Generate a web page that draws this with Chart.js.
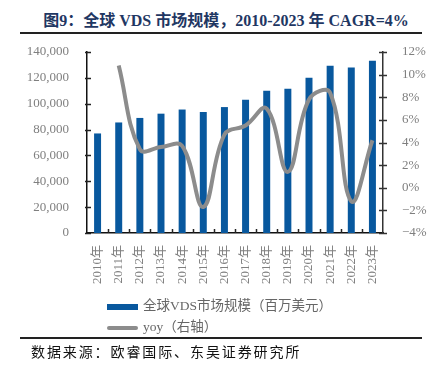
<!DOCTYPE html>
<html>
<head>
<meta charset="utf-8">
<script src="https://cdn.jsdelivr.net/npm/chart.js@4/dist/chart.umd.min.js"></script>
<style>
  body { margin: 0; background: #fff; }
  #wrap { position: relative; width: 440px; height: 365px; overflow: hidden; }
  #chart { position: absolute; left: 0; top: 0; }
  .title { position: absolute; left: 0; width: 452px; top: 7px; text-align: center;
    font: bold 16px "Liberation Serif", "Noto Sans CJK SC", serif; color: #1f3763; }
  .rule { position: absolute; left: 20px; width: 402px; height: 2px; background: #222; }
  .legend { position: absolute; left: 107px; font: 13.5px "Liberation Serif", "Noto Sans CJK SC", serif; color: #666; }
  .legend span.sw { display: inline-block; width: 31px; vertical-align: middle; margin-right: 5px; }
  .source { position: absolute; left: 31px; top: 341px; font: 14px "Noto Sans CJK SC", serif; color: #111; letter-spacing: 1.9px; }
</style>
</head>
<body>
<div id="wrap">
  <div class="title">图9：全球 VDS 市场规模，2010-2023 年 CAGR=4%</div>
  <div class="rule" style="top:32px"></div>
  <canvas id="chart" width="440" height="365"></canvas>
  <div class="legend" style="top:294px"><span class="sw" style="height:6px;background:#08589e"></span>全球VDS市场规模（百万美元）</div>
  <div class="legend" style="top:315px"><span class="sw" style="height:4px;background:#8c8c8c;border-radius:2px"></span>yoy（右轴）</div>
  <div class="rule" style="top:337px"></div>
  <div class="source">数据来源：欧睿国际、东吴证券研究所</div>
</div>

<script>
// DATA
const years = ["2010年", "2011年", "2012年", "2013年", "2014年", "2015年", "2016年",
  "2017年", "2018年", "2019年", "2020年", "2021年", "2022年", "2023年"];
const marketSize = [77000, 85500, 89000, 92300, 95500, 93600, 97400,
  103000, 110000, 111500, 120000, 129300, 128100, 133200];
const yoy = [null, 10.8, 3.4, 3.6, 3.7, -1.7, 4.7, 5.5, 7.0, 1.4, 7.8, 8.4, -1.2, 4.2];
const leftTicks = [0, 140000, 20000];   // min, max, step
const rightTicks = [-4, 12, 2];

// small tick marks that cross the axis lines
const axisTicks = {
  id: "axisTicks",
  afterDraw(chart) {
    const ctx = chart.ctx;
    const y = chart.scales.y, y1 = chart.scales.y1, x = chart.scales.x;
    ctx.save();
    ctx.lineWidth = 1.5;
    ctx.strokeStyle = "#222";
    y.ticks.forEach((t, i) => {
      const p = Math.round(y.getPixelForTick(i)) + 0.5;
      ctx.beginPath(); ctx.moveTo(y.right - 2, p); ctx.lineTo(y.right + 4, p); ctx.stroke();
    });
    ctx.strokeStyle = "#333";
    y1.ticks.forEach((t, i) => {
      const p = Math.round(y1.getPixelForTick(i)) + 0.5;
      ctx.beginPath(); ctx.moveTo(y1.left - 4, p); ctx.lineTo(y1.left + 4, p); ctx.stroke();
    });
    ctx.strokeStyle = "#222";
    const n = x.ticks.length;
    for (let i = 1; i < n; i++) {
      const p = Math.round((x.getPixelForTick(i - 1) + x.getPixelForTick(i)) / 2) + 0.5;
      ctx.beginPath(); ctx.moveTo(p, x.top); ctx.lineTo(p, x.top - 4); ctx.stroke();
    }
    ctx.restore();
  }
};

const tickFont = { family: "'Liberation Serif', 'Noto Sans CJK SC', serif", size: 13 };

new Chart(document.getElementById("chart"), {
  data: {
    labels: years,
    datasets: [
      {
        type: "line",
        label: "yoy（右轴）",
        data: yoy,
        yAxisID: "y1",
        borderColor: "#8c8c8c",
        borderWidth: 4,
        pointRadius: 0,
        tension: 0.4,
        order: 0
      },
      {
        type: "bar",
        label: "全球VDS市场规模（百万美元）",
        data: marketSize,
        yAxisID: "y",
        backgroundColor: "#08589e",
        barPercentage: 0.33,
        categoryPercentage: 1,
        order: 1
      }
    ]
  },
  options: {
    responsive: false,
    animation: false,
    layout: { padding: { top: 52, left: 0, right: 0, bottom: 0 } },
    plugins: { legend: { display: false }, tooltip: { enabled: false } },
    scales: {
      x: {
        offset: true,
        grid: { display: false },
        border: { display: true, color: "#111", width: 1.5 },
        ticks: { font: tickFont, color: "#7f7f7f", minRotation: 90, maxRotation: 90, padding: 4 },
        afterFit: s => { s.height = 132; }
      },
      y: {
        position: "left",
        min: leftTicks[0], max: leftTicks[1],
        grid: { display: false },
        border: { display: true, color: "#111", width: 1.5 },
        ticks: { stepSize: leftTicks[2], font: tickFont, color: "#7f7f7f", padding: 10 },
        afterFit: s => { s.width = 87; }
      },
      y1: {
        position: "right",
        min: rightTicks[0], max: rightTicks[1],
        grid: { display: false },
        border: { display: true, color: "#333", width: 1.5 },
        ticks: { stepSize: rightTicks[2], font: tickFont, color: "#7f7f7f", padding: 11,
          callback: v => (v < 0 ? "−" + Math.abs(v) : v) + "%" },
        afterFit: s => { s.width = 57; }
      }
    }
  },
  plugins: [axisTicks]
});
</script>
</body>
</html>
